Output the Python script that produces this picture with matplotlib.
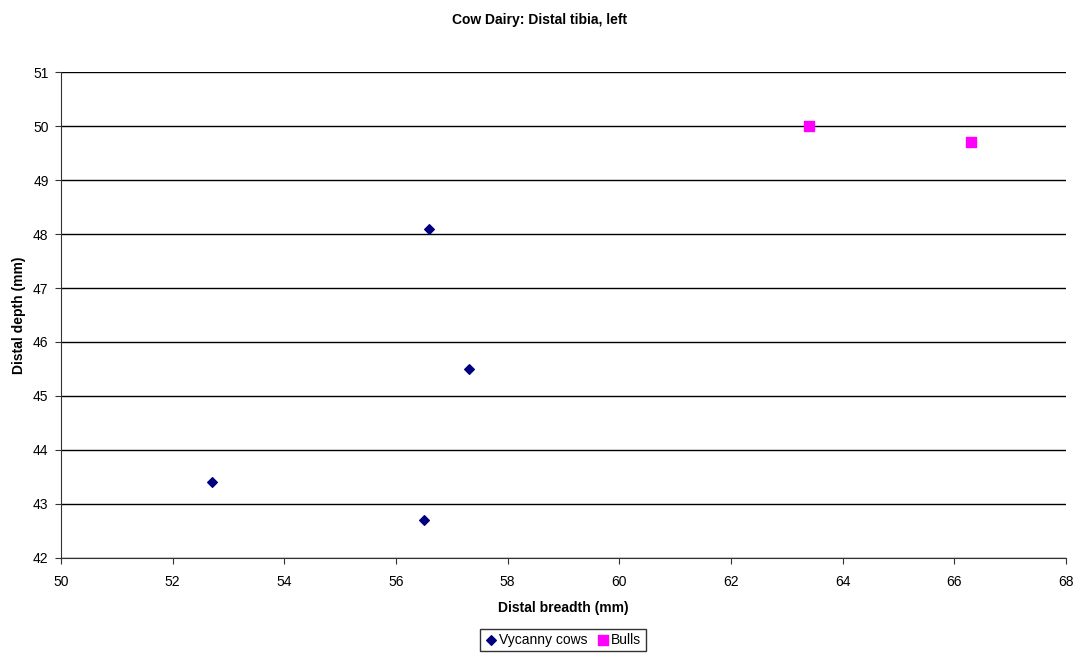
import matplotlib
matplotlib.use("Agg")
import matplotlib.pyplot as plt

plt.rcParams['font.family'] = ['Liberation Sans', 'DejaVu Sans']

# Vycanny cows
cows_breadth = [52.7, 56.5, 56.6, 57.3]
cows_depth = [43.4, 42.7, 48.1, 45.5]
# Bulls
bulls_breadth = [63.4, 66.3]
bulls_depth = [50.0, 49.7]

fig = plt.figure(figsize=(10.8, 6.59), dpi=100)
ax = fig.add_axes([0.0565, 0.1533, 0.9305, 0.7374])

ax.set_xlim(50, 68)
ax.set_ylim(42, 51)
ax.set_xticks(range(50, 69, 2))
ax.set_yticks(range(42, 52))
ax.yaxis.grid(True, color='black', linewidth=1)
ax.set_axisbelow(True)

ax.scatter(cows_breadth, cows_depth, marker='D', s=24, color='#000080', label='Vycanny cows', zorder=3)
ax.scatter(bulls_breadth, bulls_depth, marker='s', s=46, color='#FF00FF', label='Bulls', zorder=3)

for side in ['top', 'right']:
    ax.spines[side].set_visible(False)
ax.spines['left'].set_color('#333333')
ax.spines['bottom'].set_color('#333333')
ax.tick_params(direction='out', length=4, labelsize=10, color='#333333')
ax.tick_params(axis='x', pad=8)
ax.tick_params(axis='y', pad=5)

ax.set_xlabel('Distal breadth (mm)', fontsize=10, fontweight='bold', labelpad=9)
ax.set_ylabel('Distal depth (mm)', fontsize=10, fontweight='bold', labelpad=5)
fig.suptitle('Cow Dairy: Distal tibia, left', fontsize=10, fontweight='bold', y=0.98)

leg = fig.legend(loc='center', bbox_to_anchor=(0.521, 0.029), ncol=2, frameon=True,
                 fancybox=False, edgecolor='black', fontsize=10, handletextpad=0.1,
                 columnspacing=0.6, borderpad=0.3, handlelength=1.0, markerscale=1.0)
leg.get_frame().set_linewidth(1)

fig.savefig('out.png', dpi=100)
